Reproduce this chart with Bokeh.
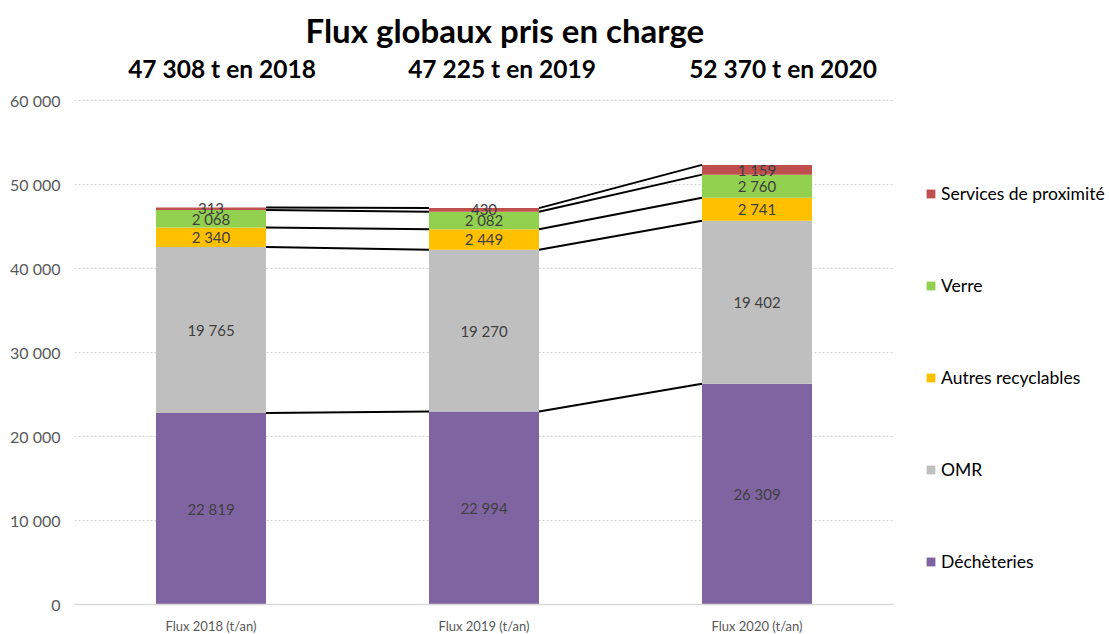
from bokeh.plotting import figure
from bokeh.models import (ColumnDataSource, FactorRange, Range1d, FixedTicker, Legend,
                          LegendItem, Title)
from bokeh.transform import dodge
from bokeh.core.properties import value
from bokeh.embed import file_html
from bokeh.resources import INLINE

categories = ["Flux 2018 (t/an)", "Flux 2019 (t/an)", "Flux 2020 (t/an)"]
series = ["Déchèteries", "OMR", "Autres recyclables", "Verre", "Services de proximité"]
decheteries = [22819, 22994, 26309]
omr = [19765, 19270, 19402]
autres = [2340, 2449, 2741]
verre = [2068, 2082, 2760]
services = [313, 430, 1159]
totals_labels = ["47 308 t en 2018", "47 225 t en 2019", "52 370 t en 2020"]
y_ticks = [0, 10000, 20000, 30000, 40000, 50000, 60000]
title_text = "Flux globaux pris en charge"

colors = ["#8064A2", "#BFBFBF", "#FFC000", "#92D050", "#C0504D"]
FONT = "Lato"
values_by_series = [decheteries, omr, autres, verre, services]


def fmt(v):
    return f"{v:,}".replace(",", "\u202f")


data = {"cat": categories}
for name, vals in zip(series, values_by_series):
    data[name] = vals
src = ColumnDataSource(data)

p = figure(x_range=FactorRange(*categories, range_padding=0), y_range=Range1d(0, 66000),
           frame_width=819, frame_height=554, output_backend="svg", toolbar_location=None,
           min_border_left=74, min_border_right=208, min_border_top=50, min_border_bottom=0)
p.title = Title(text=title_text, text_font=FONT, text_font_size="33px", align="left",
                offset=231, standoff=2, text_color="#000000")

renderers = p.vbar_stack(series, x="cat", width=0.403, color=colors, source=src,
                         line_color=None)

# connector lines between bar tops
seg = {"c0": [], "c1": [], "y0": [], "y1": []}
cum = [0, 0, 0]
for vals in values_by_series:
    cum = [c + v for c, v in zip(cum, vals)]
    for i in range(len(categories) - 1):
        seg["c0"].append(categories[i])
        seg["c1"].append(categories[i + 1])
        seg["y0"].append(cum[i])
        seg["y1"].append(cum[i + 1])
segsrc = ColumnDataSource(seg)
p.segment(x0=dodge("c0", 0.2015, range=p.x_range), x1=dodge("c1", -0.2015, range=p.x_range),
          y0="y0", y1="y1", source=segsrc, line_color="#000000", line_width=2)

# data labels
lab = {"x": [], "y": [], "t": []}
base = [0, 0, 0]
for vals in values_by_series:
    for i, v in enumerate(vals):
        lab["x"].append(categories[i])
        lab["y"].append(base[i] + v / 2)
        lab["t"].append(fmt(v))
    base = [b + v for b, v in zip(base, vals)]
p.text(x="x", y="y", text="t", source=ColumnDataSource(lab), text_align="center",
       text_baseline="middle", text_font=value(FONT), text_font_size="15px",
       text_color="#404040")

# subtitles (totals)
sub = ColumnDataSource({"x": categories, "y": [63800] * 3, "t": totals_labels,
                        "off": [11, 18, 26]})
p.text(x="x", y="y", text="t", source=sub, x_offset="off", text_align="center",
       text_baseline="middle", text_font=value(FONT), text_font_size="24.5px",
       text_font_style="bold", text_color="#000000")

# axes
p.yaxis.ticker = FixedTicker(ticks=y_ticks)
p.yaxis.major_label_overrides = {t: fmt(t) for t in y_ticks}
p.yaxis.axis_line_color = None
p.yaxis.major_tick_line_color = None
p.yaxis.minor_tick_line_color = None
p.yaxis.major_tick_out = 0
p.yaxis.major_label_text_font = FONT
p.yaxis.major_label_text_font_size = "16px"
p.yaxis.major_label_text_color = "#595959"
p.yaxis.major_label_standoff = 14

p.xaxis.axis_line_color = "#D9D9D9"
p.xaxis.axis_line_width = 1.5
p.xaxis.major_tick_line_color = None
p.xaxis.minor_tick_line_color = None
p.xaxis.major_tick_out = 0
p.xaxis.major_tick_in = 0
p.xaxis.major_label_text_font = FONT
p.xaxis.major_label_text_font_size = "13px"
p.xaxis.major_label_text_color = "#595959"
p.xaxis.major_label_standoff = 13

p.xgrid.grid_line_color = None
p.ygrid.grid_line_color = "#D0D0D0"
p.ygrid.grid_line_dash = "2 2"
p.ygrid.grid_line_width = 1
p.outline_line_color = None

items = [LegendItem(label=name, renderers=[r]) for name, r in zip(series, renderers)][::-1]
legend = Legend(items=items, location=(32, 32), orientation="vertical",
                glyph_width=11, glyph_height=11, label_height=20, spacing=71,
                label_standoff=5, padding=0, margin=0, border_line_color=None,
                background_fill_alpha=0, label_text_font=FONT,
                label_text_font_size="17.5px", label_text_color="#000000")
p.add_layout(legend, "right")

open("out.html", "w").write(file_html(p, INLINE))
